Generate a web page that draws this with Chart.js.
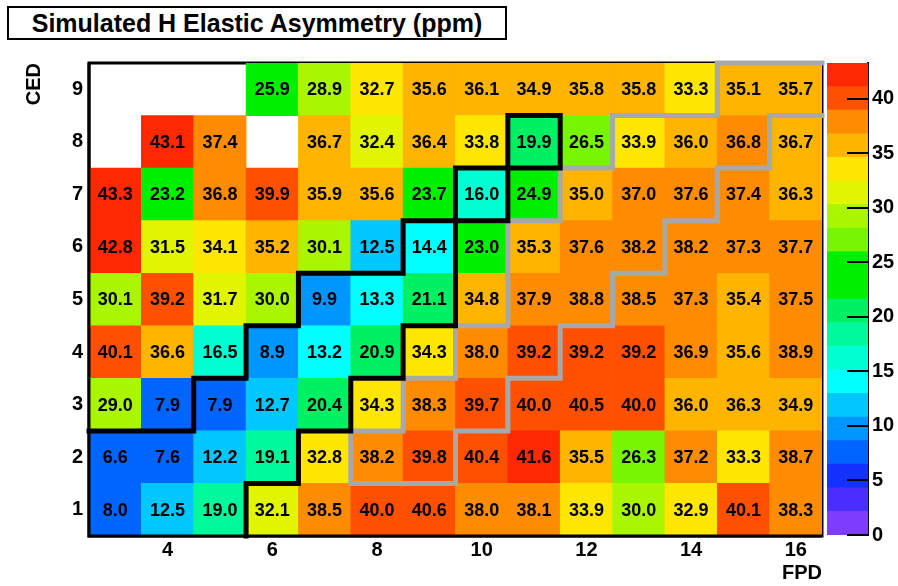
<!DOCTYPE html>
<html>
<head>
<meta charset="utf-8">
<script src="https://cdn.jsdelivr.net/npm/chart.js@4.4.0/dist/chart.umd.min.js"></script>
<style>
    html, body { margin: 0; padding: 0; background: #fff; }
    body { width: 898px; height: 586px; position: relative; overflow: hidden; font-family: "Liberation Sans", Arial, Helvetica, sans-serif; }
    #title { position: absolute; left: 7px; top: 6px; width: 496px; height: 30px; border: 2px solid #000;
             font-weight: bold; font-size: 25px; line-height: 31px; text-align: center; color: #000; }
    #main { position: absolute; left: 0; top: 0; }
    #zbar { position: absolute; left: 800px; top: 0; }
</style>
</head>
<body>
<div id="title">Simulated H Elastic Asymmetry (ppm)</div>
<canvas id="main" width="898" height="586"></canvas>
<canvas id="zbar" width="98" height="586"></canvas>
<script>
// FPD columns and CED rows
const fpd = [3, 4, 5, 6, 7, 8, 9, 10, 11, 12, 13, 14, 15, 16];
const ced = [1, 2, 3, 4, 5, 6, 7, 8, 9];

// asymmetry (ppm) per CED row, one entry per FPD column; null = empty bin
const ced1 = [8.0, 12.5, 19.0, 32.1, 38.5, 40.0, 40.6, 38.0, 38.1, 33.9, 30.0, 32.9, 40.1, 38.3];
const ced2 = [6.6, 7.6, 12.2, 19.1, 32.8, 38.2, 39.8, 40.4, 41.6, 35.5, 26.3, 37.2, 33.3, 38.7];
const ced3 = [29.0, 7.9, 7.9, 12.7, 20.4, 34.3, 38.3, 39.7, 40.0, 40.5, 40.0, 36.0, 36.3, 34.9];
const ced4 = [40.1, 36.6, 16.5, 8.9, 13.2, 20.9, 34.3, 38.0, 39.2, 39.2, 39.2, 36.9, 35.6, 38.9];
const ced5 = [30.1, 39.2, 31.7, 30.0, 9.9, 13.3, 21.1, 34.8, 37.9, 38.8, 38.5, 37.3, 35.4, 37.5];
const ced6 = [42.8, 31.5, 34.1, 35.2, 30.1, 12.5, 14.4, 23.0, 35.3, 37.6, 38.2, 38.2, 37.3, 37.7];
const ced7 = [43.3, 23.2, 36.8, 39.9, 35.9, 35.6, 23.7, 16.0, 24.9, 35.0, 37.0, 37.6, 37.4, 36.3];
const ced8 = [null, 43.1, 37.4, null, 36.7, 32.4, 36.4, 33.8, 19.9, 26.5, 33.9, 36.0, 36.8, 36.7];
const ced9 = [null, null, null, 25.9, 28.9, 32.7, 35.6, 36.1, 34.9, 35.8, 35.8, 33.3, 35.1, 35.7];
const rows = [ced1, ced2, ced3, ced4, ced5, ced6, ced7, ced8, ced9];

// outlined bin groups, [FPD, CED]
const blackCells = [[3, 1], [4, 1], [5, 1], [3, 2], [4, 2], [5, 2], [6, 2], [5, 3], [6, 3], [7, 3],
    [6, 4], [7, 4], [8, 4], [7, 5], [8, 5], [9, 5], [9, 6], [10, 7], [11, 8]];
const grayCells = [[8, 2], [9, 2], [9, 3], [10, 3], [10, 4], [11, 4], [11, 5], [12, 5], [11, 6], [12, 6],
    [13, 6], [12, 7], [13, 7], [14, 7], [13, 8], [14, 8], [15, 8], [15, 9], [16, 9]];

// axis ticks
const fpdTicks = [4, 6, 8, 10, 12, 14, 16];
const zTicks = [0, 5, 10, 15, 20, 25, 30, 35, 40];
const zMax = 43.28;

// 20 contour levels, violet -> red
const palette = ['#7d3cff', '#4a2dff', '#1432ff', '#0064ff', '#0096ff', '#00c8ff', '#00ffff', '#00ffd2',
    '#00fa9b', '#00f064', '#00f000', '#00f000', '#78f500', '#aaf500', '#e1f500', '#ffe600',
    '#ffb400', '#ff8c00', '#ff5000', '#ff2800'];

const FONT = '"Liberation Sans", Arial, Helvetica, sans-serif';
Chart.defaults.font.family = FONT;
Chart.defaults.color = '#000';

function colorFor(v) {
    const k = Math.min(palette.length - 1, Math.max(0, Math.floor(v / (zMax / palette.length))));
    return palette[k];
}

// stroke the edges of a group of bins where they border bins outside the group
function drawOutline(chart, cells, color) {
    const { ctx, scales: { x, y } } = chart;
    const has = (c, r) => cells.some(([cc, rr]) => cc === c && rr === r);
    const half = (x.getPixelForValue(1) - x.getPixelForValue(0)) / 2;
    const px = c => x.getPixelForValue(fpd.indexOf(c));
    ctx.save();
    ctx.strokeStyle = color;
    ctx.lineWidth = 5;
    ctx.lineCap = 'square';
    ctx.beginPath();
    cells.forEach(([c, r]) => {
        const l = px(c) - half, rt = px(c) + half;
        const t = y.getPixelForValue(r + 0.5), b = y.getPixelForValue(r - 0.5);
        if (!has(c, r + 1)) { ctx.moveTo(l, t); ctx.lineTo(rt, t); }
        if (r > ced[0] && !has(c, r - 1)) { ctx.moveTo(l, b); ctx.lineTo(rt, b); }
        if (c > fpd[0] && !has(c - 1, r)) { ctx.moveTo(l, t); ctx.lineTo(l, b); }
        if (c < fpd[fpd.length - 1] && !has(c + 1, r)) { ctx.moveTo(rt, t); ctx.lineTo(rt, b); }
    });
    ctx.stroke();
    ctx.restore();
}

const heatmapDecor = {
    id: 'heatmapDecor',
    beforeDatasetsDraw(chart) {
        const { ctx, chartArea: a } = chart;
        ctx.save();
        ctx.strokeStyle = '#000';
        ctx.lineWidth = 3;
        ctx.strokeRect(a.left, a.top, a.right - a.left, a.bottom - a.top);
        ctx.restore();
    },
    afterDatasetsDraw(chart) {
        const { ctx, chartArea: a } = chart;
        drawOutline(chart, grayCells, '#a8a8a8');
        drawOutline(chart, blackCells, '#000');

        // axis lines on top of the bins
        ctx.save();
        ctx.strokeStyle = '#000';
        ctx.lineWidth = 3;
        ctx.beginPath();
        ctx.moveTo(a.left, a.top);
        ctx.lineTo(a.left, a.bottom);
        ctx.lineTo(a.right, a.bottom);
        ctx.stroke();

        // bin contents
        ctx.fillStyle = '#000';
        ctx.font = 'bold 18px ' + FONT;
        ctx.textAlign = 'center';
        ctx.textBaseline = 'middle';
        chart.data.datasets.forEach((ds, di) => {
            chart.getDatasetMeta(di).data.forEach((bar, j) => {
                const v = ds.values[j];
                if (v == null) return;
                const p = bar.getProps(['x', 'y', 'base'], true);
                ctx.fillText(v.toFixed(1), p.x, (p.y + p.base) / 2 + 1);
            });
        });
        ctx.restore();
    }
};

const tickFont = { size: 20, weight: 'bold' };

new Chart(document.getElementById('main'), {
    type: 'bar',
    data: {
        labels: fpd.map(String),
        datasets: rows.map((vals, i) => ({
            label: 'CED ' + ced[i],
            values: vals,
            data: vals.map(v => v == null ? null : [ced[i] - 0.5, ced[i] + 0.5]),
            backgroundColor: vals.map(v => v == null ? 'rgba(0,0,0,0)' : colorFor(v)),
            borderWidth: 0,
            grouped: false,
            barPercentage: 1,
            categoryPercentage: 1
        }))
    },
    options: {
        responsive: false,
        animation: false,
        layout: { padding: { left: 0, top: 63, right: 76, bottom: 0 } },
        plugins: { legend: { display: false }, tooltip: { enabled: false } },
        scales: {
            x: {
                type: 'category',
                offset: true,
                grid: { display: false, drawTicks: false },
                border: { display: false },
                ticks: {
                    autoSkip: false, maxRotation: 0, padding: 2, font: tickFont,
                    callback: (v, i) => fpdTicks.includes(fpd[i]) ? String(fpd[i]) : ''
                },
                title: { display: true, text: 'FPD', align: 'end', font: tickFont, padding: { top: 0, bottom: 1 } },
                afterFit: s => { s.height = 50; }
            },
            y: {
                type: 'linear',
                min: 0.5,
                max: 9.5,
                afterBuildTicks: s => { s.ticks = ced.map(v => ({ value: v })); },
                grid: { display: false, drawTicks: false },
                border: { display: false },
                ticks: { padding: 6, font: tickFont },
                title: { display: true, text: 'CED', align: 'end', font: tickFont, padding: { top: 22, bottom: 0 } },
                afterFit: s => { s.width = 89; }
            }
        }
    },
    plugins: [heatmapDecor]
});

// palette axis
const zTickMarks = {
    id: 'zTickMarks',
    afterDraw(chart) {
        const { ctx, chartArea: a, scales: { y } } = chart;
        ctx.save();
        ctx.strokeStyle = '#000';
        ctx.lineWidth = 2;
        ctx.beginPath();
        y.ticks.forEach(t => {
            const py = Math.round(y.getPixelForValue(t.value));
            ctx.moveTo(a.right - 21, py);
            ctx.lineTo(a.right, py);
        });
        ctx.stroke();
        ctx.restore();
    }
};

const step = zMax / palette.length;
new Chart(document.getElementById('zbar'), {
    type: 'bar',
    data: {
        labels: [''],
        datasets: palette.map((c, k) => ({
            data: [[k * step, (k + 1) * step]],
            backgroundColor: c,
            borderWidth: 0,
            grouped: false,
            barPercentage: 1,
            categoryPercentage: 1
        }))
    },
    options: {
        responsive: false,
        animation: false,
        layout: { padding: { left: 27, top: 63, right: 0, bottom: 51 } },
        plugins: { legend: { display: false }, tooltip: { enabled: false } },
        scales: {
            x: { display: false, offset: true },
            y: {
                position: 'right',
                min: 0,
                max: zMax,
                afterBuildTicks: s => { s.ticks = zTicks.map(v => ({ value: v })); },
                grid: { display: false, drawTicks: false },
                border: { display: true, color: '#000', width: 2 },
                ticks: { padding: 4, font: tickFont },
                afterFit: s => { s.width = 30; }
            }
        }
    },
    plugins: [zTickMarks]
});
</script>
</body>
</html>
